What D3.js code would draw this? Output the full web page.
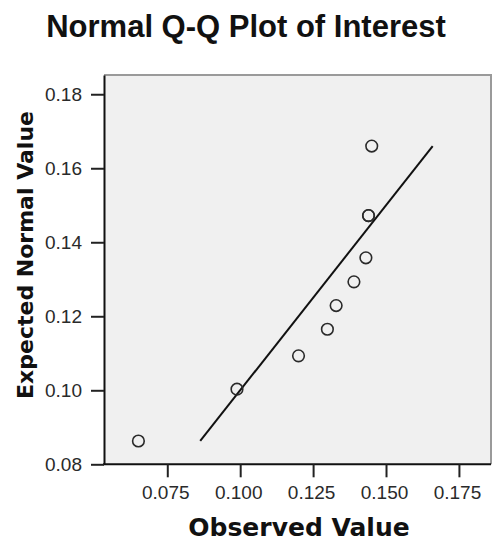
<!DOCTYPE html>
<html>
<head>
<meta charset="utf-8">
<script src="https://cdn.jsdelivr.net/npm/d3@7/dist/d3.min.js"></script>
<style>
  html, body { margin: 0; padding: 0; background: #fff; }
  svg { display: block; font-family: "Liberation Sans", Arial, sans-serif; }
</style>
</head>
<body>
<svg id="chart" width="492" height="541"></svg>
<script>
// ---- Data ----
const observed = [0.0651, 0.0989, 0.1200, 0.1299, 0.1329, 0.1390, 0.1431, 0.1440, 0.1440, 0.1451];
const expected = [0.0863, 0.1003, 0.1093, 0.1165, 0.1229, 0.1293, 0.1358, 0.1472, 0.1472, 0.1660];
const refLine = [0.0863, 0.1660];
const xTicks = [0.075, 0.100, 0.125, 0.150, 0.175];
const yTicks = [0.08, 0.10, 0.12, 0.14, 0.16, 0.18];
const title = "Normal Q-Q Plot of Interest";
const xTitle = "Observed Value";
const yTitle = "Expected Normal Value";

// ---- Layout ----
const svg = d3.select("#chart");
const pLeft = 104, pRight = 491, pTop = 75, pBottom = 464.3;

const x = d3.scaleLinear().domain([0.0533, 0.186]).range([pLeft, pRight]);
const y = d3.scaleLinear().domain([0.08, 0.1852]).range([pBottom, pTop]);

// plot background
svg.append("rect")
  .attr("x", pLeft).attr("y", pTop)
  .attr("width", pRight - pLeft).attr("height", pBottom - pTop)
  .attr("fill", "#f0f0f0");

// top and right frame (gray)
svg.append("path")
  .attr("d", `M${pLeft},${pTop}H${pRight}V${pBottom}`)
  .attr("fill", "none").attr("stroke", "#9a9a9a").attr("stroke-width", 2);

// axes
const xAxis = d3.axisBottom(x).tickValues(xTicks).tickSize(13).tickSizeOuter(0)
  .tickFormat(d3.format(".3f"));
const yAxis = d3.axisLeft(y).tickValues(yTicks).tickSize(13).tickSizeOuter(0)
  .tickFormat(d3.format(".2f"));

const gx = svg.append("g").attr("transform", `translate(0,${pBottom})`).call(xAxis);
const gy = svg.append("g").attr("transform", `translate(${pLeft},0)`).call(yAxis);

[gx, gy].forEach(g => {
  g.select(".domain").attr("stroke", "#111").attr("stroke-width", 2);
  g.selectAll(".tick line").attr("stroke", "#222").attr("stroke-width", 2);
  g.selectAll(".tick text")
    .attr("fill", "#2a2a2a")
    .style("font-size", "19px")
    .style("font-family", "'Liberation Sans', Arial, sans-serif");
});
gx.select(".domain").attr("d", `M${pLeft - 1},0H${pRight}`);
gx.selectAll(".tick text").attr("dy", "0.75em").attr("y", 20).attr("dx", -2);
gy.selectAll(".tick text").attr("x", -22);

// reference line
svg.append("line")
  .attr("x1", x(refLine[0])).attr("y1", y(refLine[0]))
  .attr("x2", x(refLine[1])).attr("y2", y(refLine[1]))
  .attr("stroke", "#111").attr("stroke-width", 2);

// points
svg.append("g").selectAll("circle")
  .data(observed.map((o, i) => ({ o, e: expected[i] })))
  .join("circle")
  .attr("cx", d => x(d.o))
  .attr("cy", d => y(d.e))
  .attr("r", 5.8)
  .attr("fill", "none")
  .attr("stroke", "#2a2a2a")
  .attr("stroke-width", 1.6);

// titles
svg.append("text")
  .attr("x", 246).attr("y", 37)
  .attr("text-anchor", "middle")
  .style("font-weight", "bold").style("font-size", "31px")
  .style("font-family", "'Liberation Sans', Arial, sans-serif")
  .attr("fill", "#111")
  .text(title);

svg.append("text")
  .attr("x", 299).attr("y", 536)
  .attr("text-anchor", "middle")
  .style("font-weight", "bold").style("font-size", "25px")
  .style("font-family", "'DejaVu Sans', Verdana, sans-serif")
  .attr("fill", "#111")
  .text(xTitle);

svg.append("text")
  .attr("transform", "translate(33,255) rotate(-90)")
  .attr("text-anchor", "middle")
  .style("font-weight", "bold").style("font-size", "22px")
  .style("font-family", "'DejaVu Sans', Verdana, sans-serif")
  .attr("fill", "#111")
  .text(yTitle);
</script>
</body>
</html>
